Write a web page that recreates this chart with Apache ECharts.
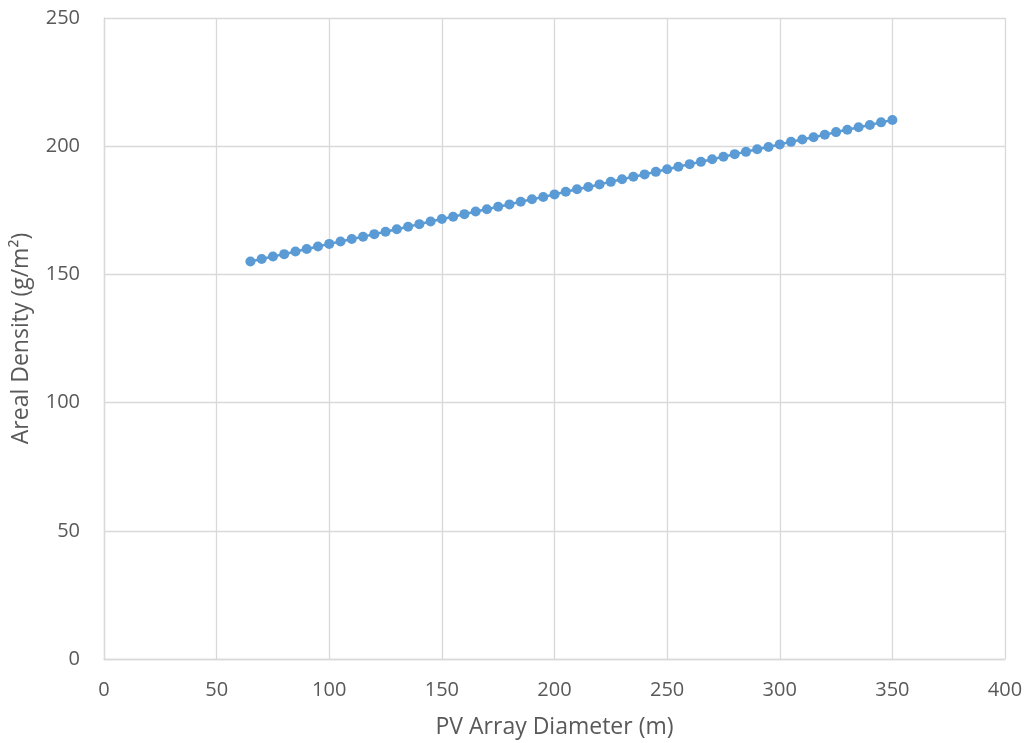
<!DOCTYPE html>
<html>
<head>
<meta charset="utf-8">
<script src="https://cdn.jsdelivr.net/npm/echarts@6/dist/echarts.min.js"></script>
<style>
  html, body { margin: 0; padding: 0; background: #fff; }
  #chart { width: 1028px; height: 743px; }
</style>
</head>
<body>
<div id="chart"></div>
<script>
// PV array diameter (m)
const diameters = [65, 70, 75, 80, 85, 90, 95, 100, 105, 110, 115, 120, 125, 130, 135, 140, 145, 150,
  155, 160, 165, 170, 175, 180, 185, 190, 195, 200, 205, 210, 215, 220, 225, 230, 235, 240, 245, 250,
  255, 260, 265, 270, 275, 280, 285, 290, 295, 300, 305, 310, 315, 320, 325, 330, 335, 340, 345, 350];
// Areal density (g/m²)
const densities = [155.0, 156.0, 157.0, 157.9, 158.9, 159.9, 160.9, 161.9, 162.8, 163.8, 164.7, 165.7,
  166.6, 167.6, 168.6, 169.6, 170.6, 171.6, 172.5, 173.5, 174.5, 175.4, 176.4, 177.3, 178.3, 179.3,
  180.2, 181.2, 182.2, 183.2, 184.1, 185.1, 186.1, 187.1, 188.1, 189.0, 190.0, 191.0, 192.0, 193.0,
  193.9, 194.9, 195.9, 196.9, 197.8, 198.8, 199.7, 200.7, 201.7, 202.6, 203.5, 204.5, 205.5, 206.4,
  207.4, 208.3, 209.3, 210.2];

const xAxisName = 'PV Array Diameter (m)';
const yAxisName = 'Areal Density (g/m²)';

const FONT = '"Open Sans", "Liberation Sans", sans-serif';
const TEXT = '#595959';
const GRID = '#d9d9d9';

const chart = echarts.init(document.getElementById('chart'), null, { renderer: 'canvas' });
chart.setOption({
  animation: false,
  backgroundColor: '#ffffff',
  grid: { left: 104, right: 23, top: 18, bottom: 84, outerBoundsMode: 'none' },
  xAxis: {
    type: 'value', min: 0, max: 400, interval: 50,
    name: xAxisName, nameLocation: 'middle', nameGap: 57,
    nameTextStyle: { fontFamily: FONT, fontSize: 23, color: TEXT },
    axisLine: { show: true, lineStyle: { color: GRID, width: 1.3 } },
    axisTick: { show: false },
    axisLabel: { fontFamily: FONT, fontSize: 20, color: TEXT, margin: 21 },
    splitLine: { show: true, lineStyle: { color: GRID, width: 1.3 } }
  },
  yAxis: {
    type: 'value', min: 0, max: 250, interval: 50,
    name: yAxisName, nameLocation: 'middle', nameGap: 71,
    nameTextStyle: { fontFamily: FONT, fontSize: 23, color: TEXT },
    axisLine: { show: true, lineStyle: { color: GRID, width: 1.3 } },
    axisTick: { show: false },
    axisLabel: { fontFamily: FONT, fontSize: 20, color: TEXT, margin: 24 },
    splitLine: { show: true, lineStyle: { color: GRID, width: 1.3 } }
  },
  series: [{
    type: 'line',
    data: diameters.map((d, i) => [d, densities[i]]),
    symbol: 'circle',
    symbolSize: 10,
    itemStyle: { color: '#5b9bd5' },
    lineStyle: { color: '#5b9bd5', width: 2.5 }
  }]
});
</script>
</body>
</html>
